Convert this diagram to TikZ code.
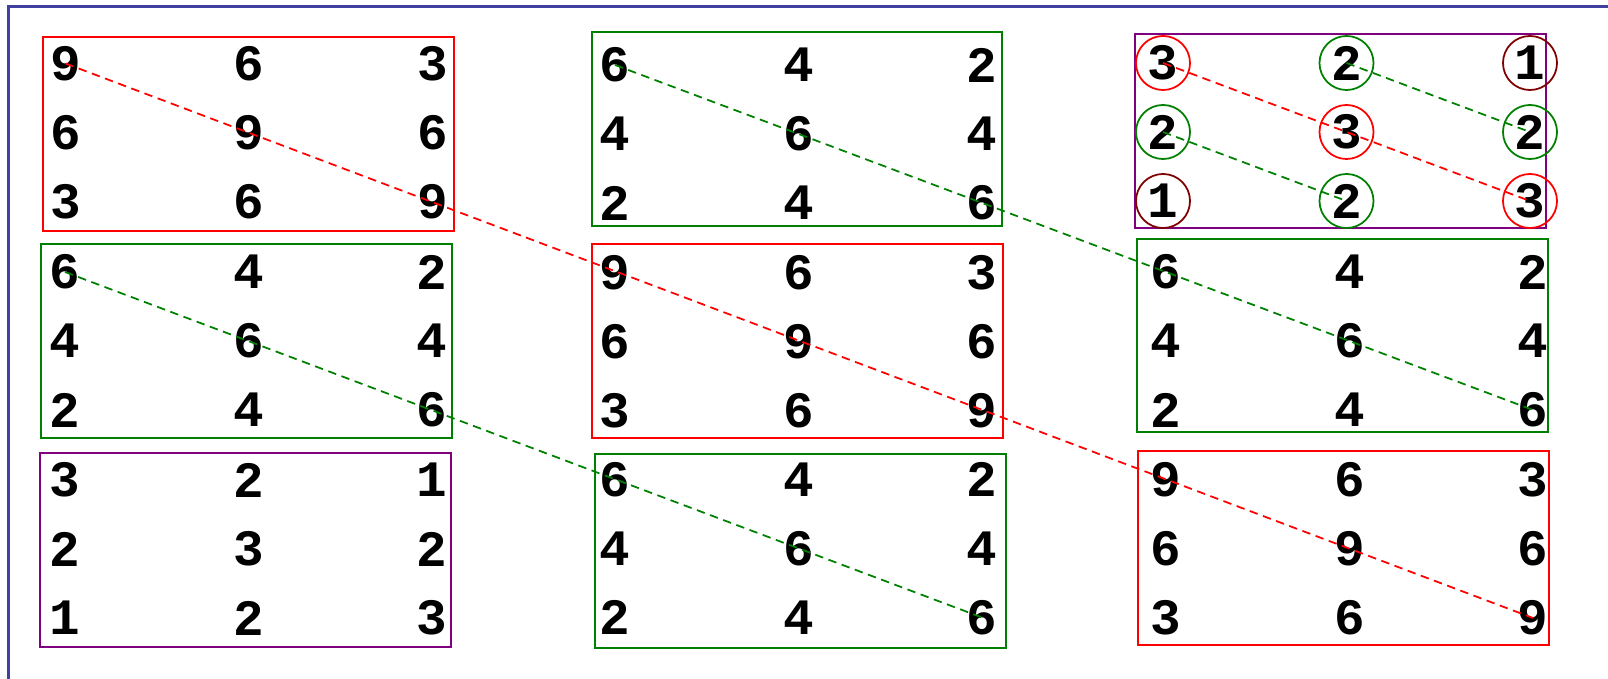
\documentclass[tikz,border=0pt]{standalone}
\usepackage{fontspec}
\setmonofont{Liberation Mono}
\usepackage{tikz}
\definecolor{numred}{HTML}{FF0000}
\definecolor{numgreen}{HTML}{008000}
\definecolor{numpurple}{HTML}{800080}
\definecolor{nummaroon}{HTML}{800000}
\definecolor{frameblue}{HTML}{4040A0}

\tikzset{
  digit/.style={inner sep=0pt,font=\fontsize{14.5}{17}\selectfont\ttfamily\bfseries},
  blockline/.style={line width=.6pt},
  diag/.style={line width=.5pt,dash pattern=on 2.4pt off 1.6pt},
  ring/.style={line width=.5pt}
}

% 3x3 block of digits: name, x and y of the first digit, values row by row
\newcommand\numblock[4]{%
  \foreach \v [count=\k from 0] in {#4} {
    \pgfmathtruncatemacro\rr{div(\k,3)}
    \pgfmathtruncatemacro\cc{mod(\k,3)}
    \node[digit] (#1-\rr-\cc) at ({#2+183.5*\cc},{#3+69*\rr}) {\v};
  }}

\begin{document}
\begin{tikzpicture}[x=0.01cm,y=-0.01cm]
\useasboundingbox (0,0) rectangle (1608,679);
\draw[frameblue,line width=.7pt] (8.7,679) -- (8.7,6.7) -- (1608,6.7);

% top row of blocks
\numblock{a}{65.5}{63.5}{9,6,3,6,9,6,3,6,9}
\numblock{b}{615}{65}{6,4,2,4,6,4,2,4,6}
\numblock{c}{1163}{63}{3,2,1,2,3,2,1,2,3}
% middle row
\numblock{d}{65}{272}{6,4,2,4,6,4,2,4,6}
\numblock{e}{615}{273}{9,6,3,6,9,6,3,6,9}
\numblock{f}{1166}{272}{6,4,2,4,6,4,2,4,6}
% bottom row
\numblock{g}{65}{480}{3,2,1,2,3,2,1,2,3}
\numblock{h}{615}{479.5}{6,4,2,4,6,4,2,4,6}
\numblock{i}{1166}{480}{9,6,3,6,9,6,3,6,9}

\draw[blockline,numred] (42.7,37) rectangle (453.7,230.7);
\draw[blockline,numgreen] (591.7,32.3) rectangle (1002.3,226);
\draw[blockline,numpurple] (1135,34.3) rectangle (1545.7,228.3);
\draw[blockline,numgreen] (41,244) rectangle (452,437.7);
\draw[blockline,numred] (592.3,244.3) rectangle (1002.7,438.3);
\draw[blockline,numgreen] (1136.7,239) rectangle (1547.7,432.3);
\draw[blockline,numpurple] (40,452.7) rectangle (450.7,646.7);
\draw[blockline,numgreen] (595,454.3) rectangle (1006,648.3);
\draw[blockline,numred] (1138,451) rectangle (1549,645);

% rings in the top right block
\foreach \n/\cl in {0-0/numred,1-1/numred,2-2/numred,0-1/numgreen,1-0/numgreen,1-2/numgreen,2-1/numgreen,0-2/nummaroon,2-0/nummaroon}
  \draw[ring,\cl] (c-\n) circle[radius=.27cm];

% diagonals
\draw[diag,numred] (a-0-0.center) -- (i-2-2.center);
\draw[diag,numgreen] (b-0-0.center) -- (f-2-2.center);
\draw[diag,numgreen] (d-0-0.center) -- (h-2-2.center);
\draw[diag,numred] (c-0-0.center) -- (c-2-2.center);
\draw[diag,numgreen] (c-0-1.center) -- (c-1-2.center);
\draw[diag,numgreen] (c-1-0.center) -- (c-2-1.center);
\end{tikzpicture}
\end{document}
